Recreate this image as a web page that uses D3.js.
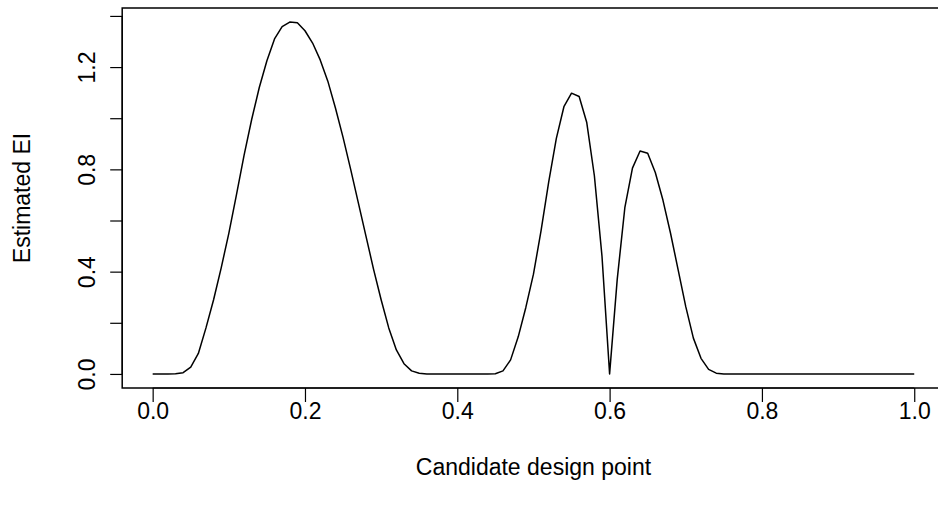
<!DOCTYPE html>
<html><head><meta charset="utf-8">
<script src="https://cdn.jsdelivr.net/npm/d3@7"></script>
<style>
html,body{margin:0;padding:0;background:#fff;}
svg{display:block;}
text{font-family:"Liberation Sans",Arial,Helvetica,sans-serif;fill:#000;}
</style></head>
<body><svg id="chart" width="938" height="505"></svg>
<script>
// Candidate design points (0.00 .. 1.00 step 0.01)
const xValues = d3.range(0, 101).map(i => +(i / 100).toFixed(2));
// Estimated EI values
const eiValues = [
  0, 0, 0, 0.001, 0.005, 0.027, 0.08, 0.18, 0.29, 0.415,
  0.55, 0.70, 0.855, 0.995, 1.12, 1.225, 1.31, 1.358, 1.376, 1.373,
  1.342, 1.294, 1.228, 1.145, 1.04, 0.925, 0.80, 0.67, 0.54, 0.41,
  0.29, 0.18, 0.094, 0.04, 0.012, 0.003, 0, 0, 0, 0,
  0, 0, 0, 0, 0, 0.001, 0.012, 0.055, 0.145, 0.26,
  0.39, 0.56, 0.75, 0.92, 1.045, 1.098, 1.085, 0.983, 0.775, 0.46,
  0, 0.37, 0.65, 0.805, 0.872, 0.863, 0.788, 0.68, 0.55, 0.407,
  0.263, 0.14, 0.061, 0.018, 0.003, 0, 0, 0, 0, 0,
  0, 0, 0, 0, 0, 0, 0, 0, 0, 0,
  0, 0, 0, 0, 0, 0, 0, 0, 0, 0,
  0
];
const xTicks = [0, 0.2, 0.4, 0.6, 0.8, 1.0];
const yTicks = [0, 0.2, 0.4, 0.6, 0.8, 1.0, 1.2, 1.4];
const yTickLabels = [0, 0.4, 0.8, 1.2];
const xTitle = "Candidate design point";
const yTitle = "Estimated EI";

const FS = 23;
const svg = d3.select("#chart");
const x = d3.scaleLinear().domain([-0.04, 1.04]).range([122.2, 944.7]);
const y = d3.scaleLinear().domain([-0.055, 1.431]).range([388, 8]);

// plot box
svg.append("rect").attr("x", x(-0.04)).attr("y", y(1.431))
  .attr("width", x(1.04) - x(-0.04)).attr("height", y(-0.055) - y(1.431))
  .attr("fill", "none").attr("stroke", "#000").attr("stroke-width", 1.5);

// x axis
const xAxis = d3.axisBottom(x).tickValues(xTicks).tickSize(14).tickPadding(10)
  .tickFormat(d3.format(".1f"));
const gx = svg.append("g").attr("transform", `translate(0,388)`).call(xAxis);
gx.select(".domain").attr("d", `M${x(0)},0H${x(1)}`).attr("stroke-width", 1.2);
gx.selectAll(".tick line").attr("stroke-width", 1.2);
gx.selectAll("text").attr("font-size", FS).attr("font-family", "Liberation Sans, Arial, sans-serif")
  .attr("dy", 0).attr("y", 31);

// y axis
const yAxis = d3.axisLeft(y).tickValues(yTicks).tickSize(12)
  .tickFormat(d => yTickLabels.some(v => Math.abs(v - d) < 1e-9) ? d3.format(".1f")(d) : "");
const gy = svg.append("g").attr("transform", `translate(122.2,0)`).call(yAxis);
gy.select(".domain").attr("d", `M0,${y(0)}V${y(1.4)}`).attr("stroke-width", 1.2);
gy.selectAll(".tick line").attr("stroke-width", 1.2);
gy.selectAll("text").attr("font-size", FS).attr("font-family", "Liberation Sans, Arial, sans-serif")
  .attr("transform", "rotate(-90)").attr("x", 0).attr("y", -27).attr("dy", 0)
  .attr("text-anchor", "middle");

// line
const line = d3.line().x((d, i) => x(xValues[i])).y(d => y(d));
svg.append("path").datum(eiValues).attr("d", line)
  .attr("fill", "none").attr("stroke", "#000").attr("stroke-width", 1.5)
  .attr("stroke-linejoin", "round");

// titles
svg.append("text").attr("x", (x(0) + x(1)) / 2).attr("y", 475)
  .attr("text-anchor", "middle").attr("font-size", FS).text(xTitle);
svg.append("text").attr("transform", `translate(30,198) rotate(-90)`)
  .attr("text-anchor", "middle").attr("font-size", FS).text(yTitle);
</script></body></html>
